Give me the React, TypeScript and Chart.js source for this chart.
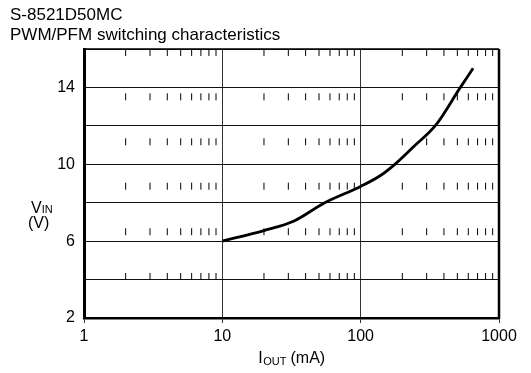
import React, { useEffect, useRef } from 'react';
import { Chart, registerables } from 'chart.js';

Chart.register(...registerables);

const TITLE_LINES = ['S-8521D50MC', 'PWM/PFM switching characteristics'];
const IOUT_MA = [10, 20, 33, 55, 100, 140, 180, 240, 350, 520, 650];
const VIN_V = [6.0, 6.55, 7.05, 8.0, 8.85, 9.43, 10.05, 10.9, 12.05, 13.95, 15.0];
const X_MAJOR_TICKS = [1, 10, 100, 1000];
const X_MINOR_TICKS = [2, 3, 4, 5, 6, 7, 8, 9, 20, 30, 40, 50, 60, 70, 80, 90, 200, 300, 400, 500, 600, 700, 800, 900];
const MINOR_TICK_ROWS_V = [15.82, 13.51, 11.17, 8.86, 6.49, 4.16];
const Y_LABELED_TICKS = [2, 6, 10, 14];
const Y_MIN = 2;
const Y_MAX = 16;
const Y_STEP = 2;

const FONT = "'Liberation Sans', Arial, sans-serif";

const axisTitlesPlugin = {
  id: 'axisTitlesFrame',
  afterDraw(chart: any) {
    const { ctx, chartArea } = chart;
    const { left, right, top, bottom } = chartArea;
    ctx.save();
    // frame (top and right)
    ctx.strokeStyle = '#000';
    ctx.lineWidth = 2.5;
    ctx.beginPath();
    ctx.moveTo(right, top);
    ctx.lineTo(right, bottom + 1);
    ctx.stroke();
    ctx.lineWidth = 1.5;
    ctx.beginPath();
    ctx.moveTo(left, top);
    ctx.lineTo(right, top);
    ctx.stroke();

    ctx.fillStyle = '#000';
    ctx.textBaseline = 'alphabetic';
    ctx.textAlign = 'left';
    // Y title: V_IN (V)
    const big = `16px ${FONT}`;
    const small = `11px ${FONT}`;
    ctx.font = big;
    const vX = 31;
    ctx.fillText('V', vX, 213);
    const vW = ctx.measureText('V').width;
    ctx.font = small;
    ctx.fillText('IN', vX + vW, 213);
    ctx.font = big;
    ctx.fillText('(V)', 28, 228);

    // X title: I_OUT (mA)
    ctx.font = big;
    const wI = ctx.measureText('I').width;
    const wM = ctx.measureText('(mA)').width;
    ctx.font = small;
    const wO = ctx.measureText('OUT').width;
    const gap = 4;
    const total = wI + wO + gap + wM;
    let x = (left + right) / 2 - total / 2;
    ctx.font = big;
    ctx.fillText('I', x, 363);
    x += wI + 0.5;
    ctx.font = small;
    ctx.fillText('OUT', x, 365);
    x += wO + gap;
    ctx.font = big;
    ctx.fillText('(mA)', x, 363);
    ctx.restore();
  },
};

export default function App() {
  const ref = useRef<HTMLCanvasElement | null>(null);

  useEffect(() => {
    if (!ref.current) return;
    const curve = IOUT_MA.map((x, i) => ({ x, y: VIN_V[i] }));
    const minorTicks: { x: number; y: number }[] = [];
    MINOR_TICK_ROWS_V.forEach((y) => X_MINOR_TICKS.forEach((x) => minorTicks.push({ x, y })));

    const chart = new Chart(ref.current, {
      type: 'scatter',
      data: {
        datasets: [
          {
            data: minorTicks,
            pointStyle: 'line',
            rotation: 90,
            radius: 3.5,
            pointRadius: 3.5,
            borderColor: '#000',
            backgroundColor: '#000',
            borderWidth: 1,
            showLine: false,
          } as any,
          {
            data: curve,
            showLine: true,
            borderColor: '#000',
            borderWidth: 2.8,
            pointRadius: 0,
            cubicInterpolationMode: 'monotone',
            fill: false,
          } as any,
        ],
      },
      plugins: [axisTitlesPlugin],
      options: {
        animation: false,
        responsive: true,
        maintainAspectRatio: false,
        events: [],
        layout: { padding: { left: 10, top: 0, right: 32, bottom: 0 } },
        plugins: {
          legend: { display: false },
          tooltip: { enabled: false },
          title: {
            display: true,
            text: TITLE_LINES,
            align: 'start',
            color: '#000',
            font: { family: FONT, size: 17, weight: 'normal', lineHeight: 20 / 17 },
            padding: { top: 5, bottom: 4 },
          },
        },
        scales: {
          x: {
            type: 'logarithmic',
            min: 1,
            max: 1000,
            afterBuildTicks: (scale: any) => {
              scale.ticks = X_MAJOR_TICKS.map((v) => ({ value: v }));
            },
            afterFit: (scale: any) => {
              scale.height = 55;
            },
            ticks: {
              color: '#000',
              font: { family: FONT, size: 16 },
              padding: 4,
              maxRotation: 0,
              autoSkip: false,
              callback: (v: any) => String(v),
            },
            grid: { color: '#333', lineWidth: 1, tickLength: 5, drawTicks: true },
            border: { color: '#000', width: 2.5 },
          },
          y: {
            type: 'linear',
            min: Y_MIN,
            max: Y_MAX,
            afterFit: (scale: any) => {
              scale.width = 74;
            },
            ticks: {
              stepSize: Y_STEP,
              color: '#000',
              font: { family: FONT, size: 16 },
              padding: 9,
              callback: (v: any) => (Y_LABELED_TICKS.includes(Number(v)) ? String(v) : ''),
            },
            grid: { color: '#111', lineWidth: 1, drawTicks: false },
            border: { color: '#000', width: 3 },
          },
        },
      } as any,
    });
    return () => chart.destroy();
  }, []);

  return (
    <div style={{ position: 'fixed', left: 0, top: 0, width: 531, height: 373, background: '#fff' }}>
      <canvas ref={ref} />
    </div>
  );
}
